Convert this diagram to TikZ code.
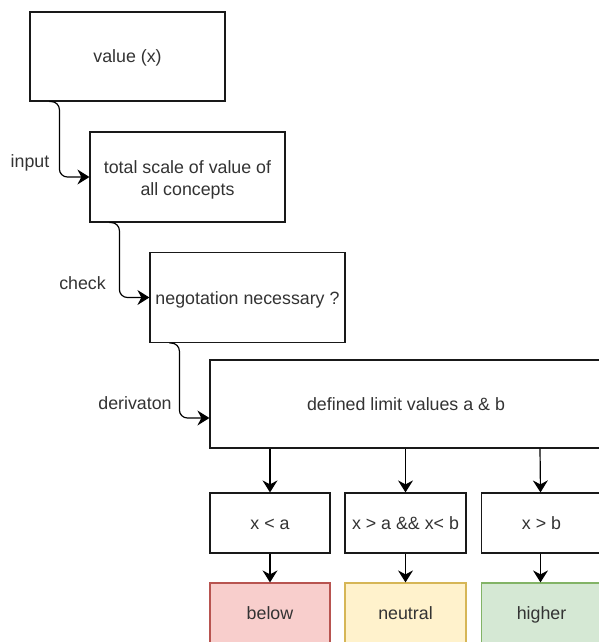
\documentclass[tikz,border=0pt]{standalone}
\usepackage{fontspec}
\setmainfont{Liberation Sans}
\usetikzlibrary{arrows.meta}
\definecolor{txt}{HTML}{333333}
\definecolor{redf}{HTML}{F8CECC}\definecolor{redd}{HTML}{B85450}
\definecolor{yelf}{HTML}{FFF2CC}\definecolor{yeld}{HTML}{D6B656}
\definecolor{grnf}{HTML}{D5E8D4}\definecolor{grnd}{HTML}{82B366}
\tikzset{
  bx/.style={draw=black!90, line width=1.2pt, fill=white, inner sep=0pt, text=txt,
    font=\fontsize{17.8}{22}\selectfont, align=center},
  one/.style={text height=16pt, text depth=3pt},
  conn/.style={line width=1.2pt, -{Stealth[length=12pt,width=15pt,inset=4pt]}, rounded corners=8pt},
  arr/.style={line width=1.2pt, -{Stealth[length=12pt,width=15pt,inset=4pt]}},
  lbl/.style={text=txt, font=\fontsize{17.8}{20}\selectfont, inner sep=0pt}
}
\begin{document}
\begin{tikzpicture}[x=1pt,y=-1pt]
\useasboundingbox (0,0) rectangle (599,642);
\clip (0,0) rectangle (599,642);
\node[bx, one, minimum width=195pt, minimum height=89pt] (v) at (127.5,56.5) {value (x)};
\node[bx, minimum width=195pt, minimum height=90pt] (t) at (187.5,177) {\raisebox{-3.5pt}[\height][\depth]{\begin{tabular}{@{}c@{}}total scale of value of\\all concepts\end{tabular}}};
\node[bx, one, minimum width=195pt, minimum height=90pt] (n) at (247.5,297.5) {negotation necessary ?};
\node[bx, one, minimum width=392pt, minimum height=88pt] (d) at (406,404) {defined limit values a \& b};
\node[bx, one, minimum width=120pt, minimum height=60pt] (c1) at (270,523) {x < a};
\node[bx, one, minimum width=121pt, minimum height=60pt] (c2) at (405.5,523) {x > a \&\& x< b};
\node[bx, one, minimum width=120pt, minimum height=60pt] (c3) at (541.5,523) {x > b};
\node[bx, one, fill=redf, draw=redd, minimum width=120pt, minimum height=60pt] (r1) at (270,613) {below};
\node[bx, one, fill=yelf, draw=yeld, minimum width=121pt, minimum height=60pt] (r2) at (405.5,613) {neutral};
\node[bx, one, fill=grnf, draw=grnd, minimum width=120pt, minimum height=60pt] (r3) at (541.5,613) {higher};
\draw[conn] ([xshift=20pt]v.south west) -| ([xshift=30pt]v.south west |- t.west) -- (t.west);
\draw[conn] ([xshift=20pt]t.south west) -| ([xshift=30pt]t.south west |- n.west) -- (n.west);
\draw[conn] ([xshift=20pt]n.south west) -| ([xshift=30pt,yshift=-14pt]n.south west |- d.west) -- ([yshift=-14pt]d.west);
\node[lbl] (l1) at (30,163) {input};
\node[lbl] (l2) at (82.5,283) {check};
\node[lbl] (l3) at (135,403) {derivaton};
\draw[arr] (d.south -| c1.north) -- (c1.north);
\draw[arr] (d.south -| c2.north) -- (c2.north);
\draw[arr] ([xshift=-1.5pt]d.south -| c3.north) -- ([xshift=-1pt]c3.north);
\draw[arr] (c1.south) -- (r1.north);
\draw[arr] (c2.south) -- (r2.north);
\draw[arr] ([xshift=-1pt]c3.south) -- ([xshift=-1pt]r3.north);
\end{tikzpicture}
\end{document}
